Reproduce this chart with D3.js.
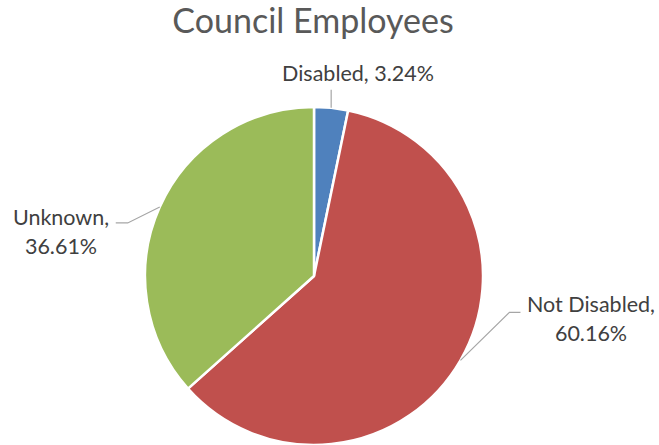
<!DOCTYPE html>
<html>
<head>
<meta charset="utf-8">
<script src="https://cdn.jsdelivr.net/npm/d3@7"></script>
<style>
  html, body { margin: 0; padding: 0; background: #fff; }
  svg { display: block; }
  text { font-family: Lato, "Open Sans", sans-serif; }
</style>
</head>
<body>
<svg id="chart" width="659" height="445"></svg>
<script>
// Staff by disability status (percent)
const categories = ["Disabled", "Not Disabled", "Unknown"];
const values = [3.24, 60.16, 36.61];
const valueLabels = ["3.24%", "60.16%", "36.61%"];
const colors = ["#4F81BD", "#C0504D", "#9BBB59"];
const title = "Council Employees";

const cx = 314, cy = 276, R = 169;

const svg = d3.select("#chart");

svg.append("text")
  .attr("x", 313).attr("y", 33)
  .attr("text-anchor", "middle")
  .attr("fill", "#595959")
  .attr("font-size", 34)
  .text(title);

const data = categories.map((c, i) => ({ name: c, value: values[i], label: valueLabels[i], color: colors[i] }));

const pie = d3.pie().value(d => d.value).sort(null);
const arcs = pie(data);
const arc = d3.arc().innerRadius(0).outerRadius(R);

const g = svg.append("g").attr("transform", `translate(${cx},${cy})`);

g.selectAll("path.slice")
  .data(arcs)
  .join("path")
  .attr("class", "slice")
  .attr("d", arc)
  .attr("fill", d => d.data.color)
  .attr("stroke", "#fff")
  .attr("stroke-width", 2.5)
  .attr("stroke-linejoin", "round");

// Label placement: elbow offset from the slice edge and text position, relative to the pie centre
const labelLayout = [
  { elbow: [0, -18], end: [0, -18], lines: 1, tx: 44, ty: -195 },
  { elbow: [49, -48], end: [60, -48], lines: 2, tx: 277, ty: 36 },
  { elbow: [-32, 16], end: [-44, 16], lines: 2, tx: -253, ty: -51 }
];

arcs.forEach((a, i) => {
  const L = labelLayout[i];
  const mid = (a.startAngle + a.endAngle) / 2;
  const p0 = [R * Math.sin(mid), -R * Math.cos(mid)];
  const p1 = [p0[0] + L.elbow[0], p0[1] + L.elbow[1]];
  const p2 = [p0[0] + L.end[0], p0[1] + L.end[1]];
  g.append("polyline")
    .attr("points", [p0, p1, p2].map(p => p.join(",")).join(" "))
    .attr("fill", "none")
    .attr("stroke", "#A6A6A6")
    .attr("stroke-width", 1.2);

  const t = g.append("text")
    .attr("text-anchor", "middle")
    .attr("fill", "#404040")
    .attr("font-size", 21.5);
  if (L.lines === 1) {
    t.append("tspan").attr("x", L.tx).attr("y", L.ty)
      .text(`${a.data.name}, ${a.data.label}`);
  } else {
    t.append("tspan").attr("x", L.tx).attr("y", L.ty).text(`${a.data.name},`);
    t.append("tspan").attr("x", L.tx).attr("y", L.ty + 29).text(a.data.label);
  }
});
</script>
</body>
</html>
